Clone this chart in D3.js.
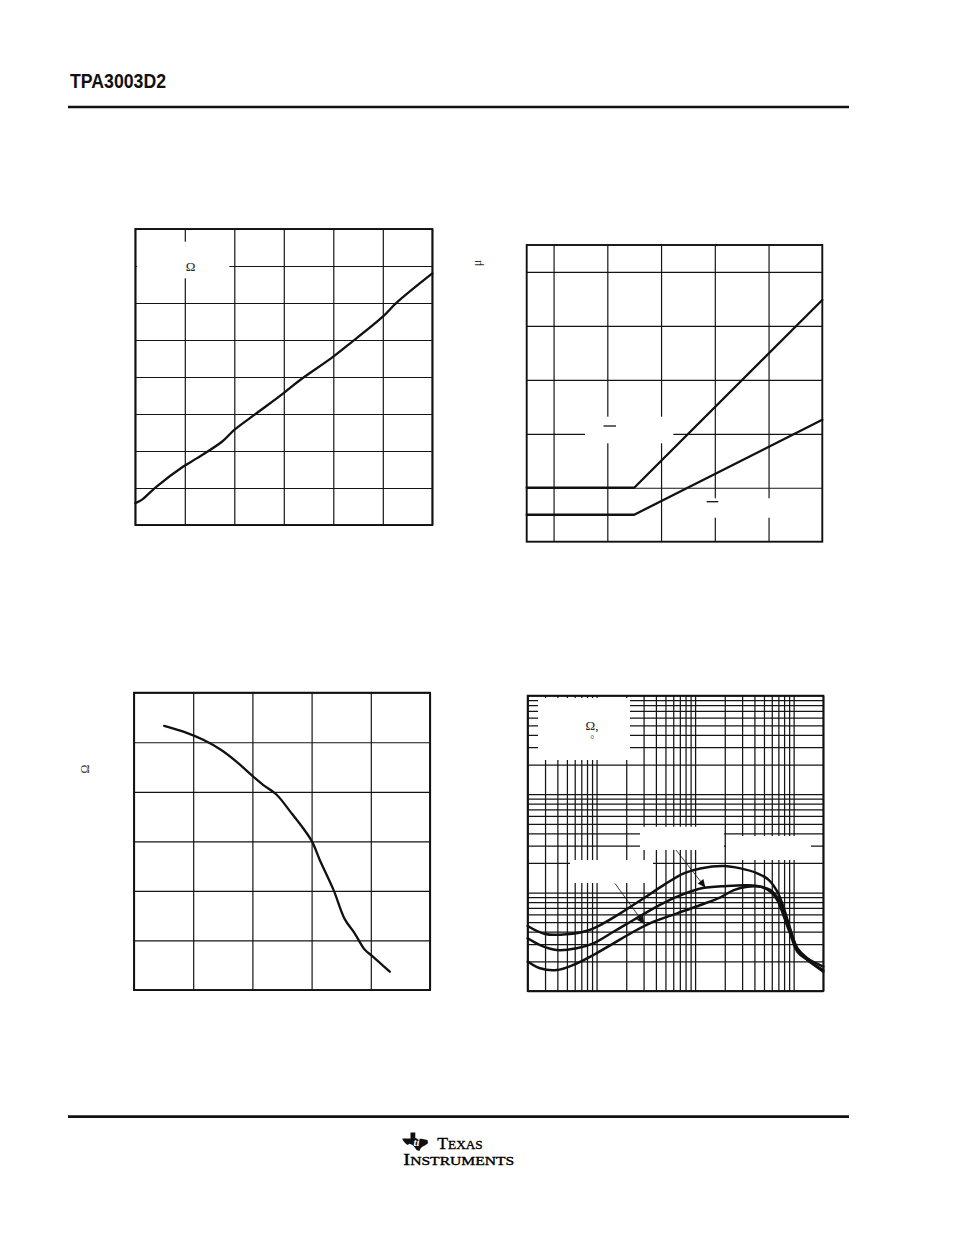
<!DOCTYPE html>
<html>
<head>
<meta charset="utf-8">
<script src="https://cdn.jsdelivr.net/npm/d3@7"></script>
<style>
  html, body { margin: 0; padding: 0; background: #fff; }
  svg { display: block; }
</style>
</head>
<body>
<script>
// ---------------- DATA ----------------
// Chart 1 (top-left): rising curve
const c1XTicks = [8, 9, 10, 11, 12, 13, 14];
const c1YTicks = [0, 1, 2, 3, 4, 5, 6, 7, 8];
const c1X = [8, 8.13, 8.43, 8.97, 9.24, 9.75, 10.0, 10.45, 11.01, 11.33, 11.98, 12.34, 13.0, 13.28, 14.0];
const c1Y = [0.59, 0.68, 1.04, 1.58, 1.80, 2.25, 2.57, 3.02, 3.58, 3.92, 4.53, 4.91, 5.63, 6.01, 6.80];

// Chart 2 (top-right): two piecewise-linear curves
const c2XTicks = [8, 9, 10, 11, 12];
const c2YTicks = [1, 2, 3, 4, 5];
const c2X = [7.5, 9.5, 13];
const c2Upper = [1.0, 1.0, 4.48];
const c2Lower = [0.5, 0.5, 2.26];

// Chart 3 (bottom-left): falling curve
const c3XTicks = [0, 1, 2, 3, 4, 5];
const c3YTicks = [0, 1, 2, 3, 4, 5, 6];
const c3X = [0.51, 0.89, 1.17, 1.48, 1.73, 2.0, 2.18, 2.41, 2.64, 2.86, 3.01, 3.14, 3.37, 3.56, 3.73, 3.90, 4.02, 4.32];
const c3Y = [5.33, 5.19, 5.05, 4.84, 4.61, 4.32, 4.14, 3.94, 3.60, 3.26, 2.99, 2.62, 2.02, 1.43, 1.14, 0.81, 0.69, 0.37];

// Chart 4 (bottom-right): log-log, three curves vs frequency (Hz)
const c4XTicks = [20,30,40,50,60,70,80,90,100,200,300,400,500,600,700,800,900,1000,2000,3000,4000,5000,6000,7000,8000,9000,10000,20000];
const c4YTicks = [0.01,0.02,0.03,0.04,0.05,0.06,0.07,0.08,0.09,0.1,0.2,0.3,0.4,0.5,0.6,0.7,0.8,0.9,1,2,3,4,5,6,7,8,9,10];
const c4TopF = [20,30,50,80,109,174,300,479,766,1132,1954,2890,4276,5610,6828,7962,9312,10910,13780,20000];
const c4TopY = [0.0457,0.0379,0.0377,0.0409,0.0468,0.0615,0.0875,0.119,0.157,0.176,0.186,0.176,0.157,0.134,0.102,0.0692,0.0417,0.0272,0.0215,0.0177];
const c4MidF = [20,26.7,39.4,62.9,92.9,148.5,237,379,656,1132,2114,3380,4617,5833,6828,7962,9312,10910,13780,20000];
const c4MidY = [0.0343,0.0293,0.0261,0.0272,0.0305,0.0400,0.0526,0.0692,0.0908,0.110,0.1167,0.1186,0.1148,0.102,0.0840,0.0569,0.0371,0.0251,0.0207,0.0163];
const c4BotF = [20,26.7,39.4,58.2,92.9,148.5,237,379,656,1132,1808,2472,3380,4617,5833,7082,8298,9700,11330,13780,20000];
const c4BotY = [0.0199,0.0170,0.0163,0.0184,0.0232,0.0305,0.0400,0.0506,0.0615,0.0748,0.0895,0.106,0.1148,0.1148,0.106,0.084,0.0569,0.0356,0.0251,0.0207,0.0157];

// ---------------- DRAW ----------------
const W = 954, H = 1235;
const svg = d3.select("body").append("svg").attr("width", W).attr("height", H);
svg.append("rect").attr("width", W).attr("height", H).attr("fill", "#fff");

const defs = svg.append("defs");
defs.append("marker").attr("id", "ah").attr("viewBox", "0 0 10 10")
  .attr("refX", 9).attr("refY", 5).attr("markerWidth", 9).attr("markerHeight", 8)
  .attr("markerUnits", "userSpaceOnUse").attr("orient", "auto")
  .append("path").attr("d", "M0,0.5 L10,5 L0,9.5 Z").attr("fill", "#111");

// header
svg.append("text").attr("x", 70).attr("y", 88.3)
  .attr("font-family", "'Liberation Sans Narrow', 'Liberation Sans', Arial, sans-serif")
  .attr("font-weight", "bold").attr("font-size", 21)
  .attr("textLength", 96).attr("lengthAdjust", "spacingAndGlyphs")
  .attr("fill", "#111").text("TPA3003D2");
svg.append("line").attr("x1", 68).attr("x2", 849).attr("y1", 107).attr("y2", 107)
  .attr("stroke", "#111").attr("stroke-width", 2.6);
svg.append("line").attr("x1", 68).attr("x2", 849).attr("y1", 1116.6).attr("y2", 1116.6)
  .attr("stroke", "#111").attr("stroke-width", 2.6);

function chart(x, y, xTicks, yTicks, rects, gw) {
  const g = svg.append("g");
  const [x0, x1] = x.range();
  const [yb, yt] = y.range();
  g.append("g").attr("transform", `translate(0,${yb})`)
    .call(d3.axisBottom(x).tickValues(xTicks).tickSize(-(yb - yt)).tickFormat(""))
    .call(a => a.select(".domain").remove())
    .call(a => a.selectAll("line").attr("stroke", "#151515").attr("stroke-width", gw || 1.2));
  g.append("g").attr("transform", `translate(${x0},0)`)
    .call(d3.axisLeft(y).tickValues(yTicks).tickSize(-(x1 - x0)).tickFormat(""))
    .call(a => a.select(".domain").remove())
    .call(a => a.selectAll("line").attr("stroke", "#151515").attr("stroke-width", gw || 1.2));
  (rects || []).forEach(r => {
    g.append("rect").attr("x", r[0]).attr("y", r[1]).attr("width", r[2] - r[0]).attr("height", r[3] - r[1])
      .attr("fill", "#fff");
  });
  const curves = g.append("g");
  g.append("rect").attr("x", x0).attr("y", yt).attr("width", x1 - x0).attr("height", yb - yt)
    .attr("fill", "none").attr("stroke", "#111").attr("stroke-width", 1.9);
  return curves;
}

function drawCurve(g, x, y, xs, ys, curve, w) {
  const pts = xs.map((d, i) => [d, ys[i]]);
  g.append("path").datum(pts)
    .attr("d", d3.line().x(d => x(d[0])).y(d => y(d[1])).curve(curve))
    .attr("fill", "none").attr("stroke", "#111").attr("stroke-width", w || 2)
    .attr("stroke-linejoin", "round").attr("stroke-linecap", "round");
}

const serif = "'Liberation Serif', 'Times New Roman', serif";

// Chart 1
{
  const x = d3.scaleLinear().domain([8, 14]).range([135.3, 432.3]);
  const y = d3.scaleLinear().domain([0, 8]).range([525, 229]);
  const g = chart(x, y, c1XTicks, c1YTicks, [[137, 241.7, 229.3, 278.3]]);
  drawCurve(g, x, y, c1X, c1Y, d3.curveCatmullRom, 2.3);
  svg.append("text").attr("x", 190.5).attr("y", 271).attr("text-anchor", "middle")
    .attr("font-family", serif).attr("font-size", 13).attr("fill", "#222").text("Ω");
}

// Chart 2
{
  const x = d3.scaleLinear().domain([7.5, 13]).range([526.7, 822.3]);
  const y = d3.scaleLinear().domain([0, 5.5]).range([541.7, 245]);
  const g = chart(x, y, c2XTicks, c2YTicks, [[585, 416.7, 673.3, 443.3], [698, 498.3, 790, 517.7]]);
  drawCurve(g, x, y, c2X, c2Upper, d3.curveLinear, 2.3);
  drawCurve(g, x, y, c2X, c2Lower, d3.curveLinear, 2.3);
  svg.append("line").attr("x1", 603.5).attr("x2", 616).attr("y1", 426).attr("y2", 426)
    .attr("stroke", "#111").attr("stroke-width", 1.3);
  svg.append("line").attr("x1", 706.7).attr("x2", 718.3).attr("y1", 501.7).attr("y2", 501.7)
    .attr("stroke", "#111").attr("stroke-width", 1.3);
  svg.append("text").attr("transform", "translate(481,263) rotate(-90)").attr("text-anchor", "middle")
    .attr("font-family", serif).attr("font-size", 12).attr("fill", "#333").text("μ");
}

// Chart 3
{
  const x = d3.scaleLinear().domain([0, 5]).range([134, 430]);
  const y = d3.scaleLinear().domain([0, 6]).range([990, 692.7]);
  const g = chart(x, y, c3XTicks, c3YTicks, []);
  drawCurve(g, x, y, c3X, c3Y, d3.curveCatmullRom, 2.3);
  svg.append("text").attr("transform", "translate(88.5,769) rotate(-90)").attr("text-anchor", "middle")
    .attr("font-family", serif).attr("font-size", 12).attr("fill", "#333").text("Ω");
}

// Chart 4
{
  const x = d3.scaleLog().domain([20, 20000]).range([527.7, 823.3]);
  const y = d3.scaleLog().domain([0.01, 10]).range([991, 695.7]);
  const g = chart(x, y, c4XTicks, c4YTicks,
    [[538, 698, 630, 760], [640, 826.7, 724, 850], [726, 836, 811, 860], [570, 860, 653, 883]], 1.25);
  drawCurve(g, x, y, c4TopF, c4TopY, d3.curveCatmullRom, 2.5);
  drawCurve(g, x, y, c4MidF, c4MidY, d3.curveCatmullRom, 2.5);
  drawCurve(g, x, y, c4BotF, c4BotY, d3.curveCatmullRom, 2.5);
  svg.append("line").attr("x1", 676).attr("y1", 850).attr("x2", 705).attr("y2", 887)
    .attr("stroke", "#111").attr("stroke-width", 0.8).attr("marker-end", "url(#ah)");
  svg.append("line").attr("x1", 615).attr("y1", 883.5).attr("x2", 644).attr("y2", 923.5)
    .attr("stroke", "#111").attr("stroke-width", 0.8).attr("marker-end", "url(#ah)");
  svg.append("text").attr("x", 592).attr("y", 729.5).attr("text-anchor", "middle")
    .attr("font-family", serif).attr("font-size", 13).attr("fill", "#222").text("Ω,");
  svg.append("text").attr("x", 592.3).attr("y", 743).attr("text-anchor", "middle")
    .attr("font-family", serif).attr("font-size", 10).attr("fill", "#444").text("°");
}

// TI logo
{
  const lg = svg.append("g").attr("transform", "translate(402.5,1132.5)");
  lg.append("path")
    .attr("d", "M8,0 L12.8,0 L12.8,5.5 L15.5,6.6 L19,6.2 L22.5,7 L25,7.4 L25.5,10.8 L22.8,12.8 L19.8,14.2 L17.8,16.2 L17,18.5 L14,17.6 L12.2,14.8 L10,12.6 L7.2,11.2 L5,12.6 L2.5,10.4 L0,7.2 L0,6 L8,6 Z")
    .attr("fill", "#111");
  lg.append("text").attr("x", 11).attr("y", 13.5).attr("font-family", serif).attr("font-style", "italic")
    .attr("font-weight", "bold").attr("font-size", 11).attr("fill", "#fff").text("ti");
  const t1 = svg.append("text").attr("x", 437.3).attr("y", 1148.5).attr("font-family", serif)
    .attr("fill", "#000").attr("stroke", "#000").attr("stroke-width", 0.35)
    .attr("textLength", 45.5).attr("lengthAdjust", "spacingAndGlyphs");
  t1.append("tspan").attr("font-size", 16.5).text("T");
  t1.append("tspan").attr("font-size", 12.5).text("EXAS");
  const t2 = svg.append("text").attr("x", 403.3).attr("y", 1165.2).attr("font-family", serif)
    .attr("fill", "#000").attr("stroke", "#000").attr("stroke-width", 0.35)
    .attr("textLength", 111).attr("lengthAdjust", "spacingAndGlyphs");
  t2.append("tspan").attr("font-size", 16.5).text("I");
  t2.append("tspan").attr("font-size", 12.5).text("NSTRUMENTS");
}
</script>
</body>
</html>
